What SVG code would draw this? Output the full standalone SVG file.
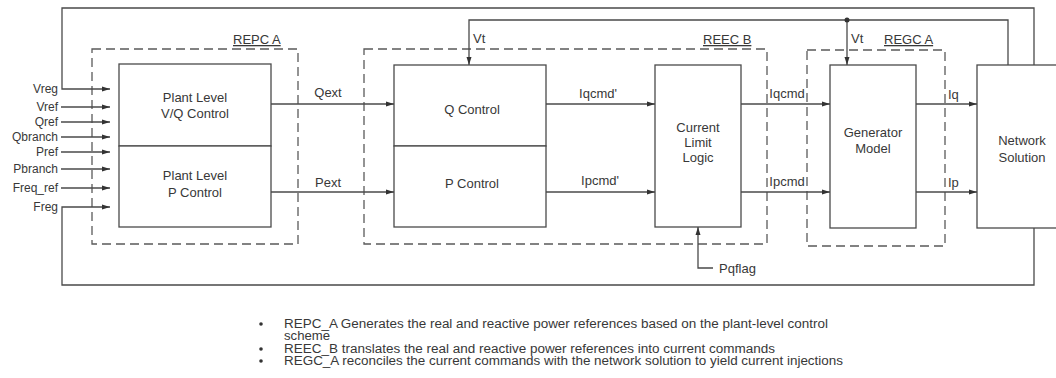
<svg xmlns="http://www.w3.org/2000/svg" width="1056" height="378" viewBox="0 0 1056 378">
<style>
.box{fill:#fff;stroke:#4a4a4a;stroke-width:1.3}
.dash{fill:none;stroke:#5a5a5a;stroke-width:1.3;stroke-dasharray:9 5}
.ln{fill:none;stroke:#4a4a4a;stroke-width:1.3}
.arr{marker-end:url(#ah)}
text{font-family:"Liberation Sans",Arial,sans-serif;fill:#383838}
.lbl{font-size:13px}
.in{font-size:12px;text-anchor:end}
.c{text-anchor:middle}
.grp{font-size:13px;text-decoration:underline}
.bul{font-size:12.3px}
</style>
<defs>
<marker id="ah" markerUnits="userSpaceOnUse" markerWidth="9" markerHeight="6" refX="8" refY="3" orient="auto">
<path d="M0,0.5 L8,3 L0,5.5 z" fill="#333"/>
</marker>
</defs>
<rect width="1056" height="378" fill="#fff"/>

<g id="repc_a">
<rect class="dash" x="92" y="49" width="206" height="195"/>
<text class="grp" x="233" y="44">REPC A</text>
</g>
<g id="reec_b">
<rect class="dash" x="364" y="49" width="403" height="195"/>
<text class="grp" x="703" y="44">REEC B</text>
</g>
<g id="regc_a">
<rect class="dash" x="807" y="50" width="138" height="196"/>
<text class="grp" x="884" y="44">REGC A</text>
</g>

<g id="plant_vq">
<rect class="box" x="119" y="64" width="152" height="82"/>
<text class="lbl c" x="195" y="102">Plant Level</text>
<text class="lbl c" x="195" y="118">V/Q Control</text>
</g>
<g id="plant_p">
<rect class="box" x="119" y="146" width="152" height="81"/>
<text class="lbl c" x="195" y="180">Plant Level</text>
<text class="lbl c" x="195" y="197">P Control</text>
</g>
<g id="q_control">
<rect class="box" x="394" y="65" width="152" height="81"/>
<text class="lbl c" x="472" y="114">Q Control</text>
</g>
<g id="p_control">
<rect class="box" x="394" y="146" width="152" height="81"/>
<text class="lbl c" x="472" y="188">P Control</text>
</g>
<g id="current_limit">
<rect class="box" x="655" y="65" width="86" height="162"/>
<text class="lbl c" x="698" y="132">Current</text>
<text class="lbl c" x="698" y="147">Limit</text>
<text class="lbl c" x="698" y="162">Logic</text>
</g>
<g id="generator_model">
<rect class="box" x="830" y="65" width="86" height="163"/>
<text class="lbl c" x="873" y="137">Generator</text>
<text class="lbl c" x="873" y="153">Model</text>
</g>
<g id="network_solution">
<rect class="box" x="977" y="65" width="90" height="163"/>
<text class="lbl c" x="1022" y="145">Network</text>
<text class="lbl c" x="1022" y="162">Solution</text>
</g>

<g id="connectors">
<path class="ln arr" d="M1034 65 V8 H62 V89 H110"/>
<path class="ln arr" d="M1034 228 V285 H62 V207 H110"/>
<path class="ln arr" d="M61 107 H110"/>
<path class="ln arr" d="M61 122 H110"/>
<path class="ln arr" d="M61 137 H110"/>
<path class="ln arr" d="M61 152 H110"/>
<path class="ln arr" d="M61 169 H110"/>
<path class="ln arr" d="M61 188 H110"/>
<path class="ln arr" d="M1008 65 V20 H469 V65"/>
<path class="ln arr" d="M847 20 V65"/>
<circle cx="847" cy="20" r="2.5" fill="#333"/>
<path class="ln arr" d="M271 104 H394"/>
<path class="ln arr" d="M271 192 H394"/>
<path class="ln arr" d="M546 104 H655"/>
<path class="ln arr" d="M546 192 H655"/>
<path class="ln arr" d="M741 104 H830"/>
<path class="ln arr" d="M741 192 H830"/>
<path class="ln arr" d="M916 104 H977"/>
<path class="ln arr" d="M916 192 H977"/>
<path class="ln arr" d="M713 268 H698 V227"/>
</g>

<g id="labels">
<text class="in" x="58" y="93">Vreg</text>
<text class="in" x="58" y="111">Vref</text>
<text class="in" x="58" y="126">Qref</text>
<text class="in" x="58" y="141">Qbranch</text>
<text class="in" x="58" y="156">Pref</text>
<text class="in" x="58" y="173">Pbranch</text>
<text class="in" x="58" y="192">Freq_ref</text>
<text class="in" x="58" y="211">Freg</text>
<text class="lbl" x="473" y="43">Vt</text>
<text class="lbl" x="851" y="43">Vt</text>
<text class="lbl c" x="328" y="97">Qext</text>
<text class="lbl c" x="328" y="187">Pext</text>
<text class="lbl c" x="598" y="98">Iqcmd'</text>
<text class="lbl c" x="600" y="185">Ipcmd'</text>
<text class="lbl c" x="787" y="98">Iqcmd</text>
<text class="lbl c" x="787" y="186">Ipcmd</text>
<text class="lbl" x="948" y="99">Iq</text>
<text class="lbl" x="948" y="187">Ip</text>
<text class="lbl" x="719" y="273">Pqflag</text>
</g>

<g id="notes">
<circle cx="261" cy="324" r="1.8" fill="#333"/>
<circle cx="261" cy="349" r="1.8" fill="#333"/>
<circle cx="261" cy="361" r="1.8" fill="#333"/>
<text class="bul" x="284" y="328" textLength="544" lengthAdjust="spacingAndGlyphs">REPC_A Generates the real and reactive power references based on the plant-level control</text>
<text class="bul" x="284" y="340" textLength="46" lengthAdjust="spacingAndGlyphs">scheme</text>
<text class="bul" x="284" y="353" textLength="491" lengthAdjust="spacingAndGlyphs">REEC_B translates the real and reactive power references into current commands</text>
<text class="bul" x="284" y="365" textLength="559" lengthAdjust="spacingAndGlyphs">REGC_A reconciles the current commands with the network solution to yield current injections</text>
</g>
</svg>
